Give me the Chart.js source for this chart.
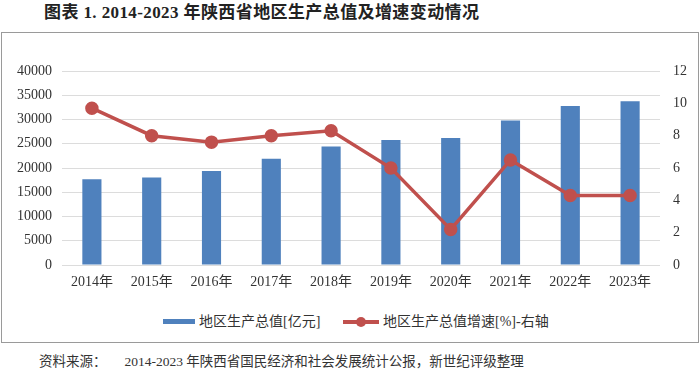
<!DOCTYPE html>
<html>
<head>
<meta charset="utf-8">
<script src="https://cdn.jsdelivr.net/npm/chart.js@4"></script>
<style>
  body { margin: 0; width: 700px; height: 380px; background: #fff; position: relative; overflow: hidden;
         font-family: "Liberation Serif", "Noto Sans CJK SC", serif; color: #222; }
  #title { position: absolute; left: 44px; top: -2px; font-size: 17px; font-weight: bold; white-space: nowrap; letter-spacing: 0.4px; }
  #box { position: absolute; left: 1px; top: 32px; width: 696px; height: 309px; border: 1px solid #9a9a9a; }
  #myChart { position: absolute; left: 0; top: 32px; }
  .leg { position: absolute; top: 310px; font-size: 14px; color: #333; white-space: nowrap; }
  .mk { display: inline-block; vertical-align: middle; position: relative; margin-right: 4px; }
  #src { position: absolute; left: 39px; top: 350px; font-size: 13.5px; color: #333; white-space: nowrap; }
  #src span { margin-left: 18px; }
</style>
</head>
<body>
<div id="title">图表 1. 2014-2023 年陕西省地区生产总值及增速变动情况</div>
<div id="box"></div>
<canvas id="myChart" width="700" height="265"></canvas>
<div class="leg" style="left:163px"><span class="mk" style="width:32px;height:5px;background:#4f81bd;top:-1px"></span>地区生产总值[亿元]</div>
<div class="leg" style="left:343px"><span class="mk" style="width:36px;height:4px;background:#c0504d;top:-1px"><span style="position:absolute;left:13px;top:-3px;width:10px;height:10px;border-radius:50%;background:#c0504d"></span></span>地区生产总值增速[%]-右轴</div>
<div id="src">资料来源：<span>2014-2023 年陕西省国民经济和社会发展统计公报，新世纪评级整理</span></div>
<script>
const years = ['2014年', '2015年', '2016年', '2017年', '2018年', '2019年', '2020年', '2021年', '2022年', '2023年'];
const gdp = [17690, 18022, 19400, 21899, 24438, 25793, 26182, 29801, 32773, 33786]; // 亿元
const growth = [9.7, 8.0, 7.6, 8.0, 8.3, 6.0, 2.2, 6.5, 4.3, 4.3]; // %

const tickFont = { family: '"Liberation Serif", "Noto Sans CJK SC", serif', size: 14 };

const ctx = document.getElementById('myChart').getContext('2d');
new Chart(ctx, {
  data: {
    labels: years,
    datasets: [
      {
        type: 'line',
        label: '地区生产总值增速[%]-右轴',
        data: growth,
        yAxisID: 'y1',
        borderColor: '#c0504d',
        backgroundColor: '#c0504d',
        borderWidth: 3.5,
        pointRadius: 5,
        pointHoverRadius: 5,
        tension: 0,
        order: 0,
      },
      {
        type: 'bar',
        label: '地区生产总值[亿元]',
        data: gdp,
        yAxisID: 'y',
        backgroundColor: '#4f81bd',
        barPercentage: 0.32,
        categoryPercentage: 1,
        order: 1,
      },
    ],
  },
  options: {
    responsive: false,
    animation: false,
    layout: { padding: { top: 39, left: 0, right: 0, bottom: 0 } },
    plugins: { legend: { display: false }, tooltip: { enabled: false } },
    scales: {
      x: {
        grid: { display: false, drawTicks: false },
        border: { display: false },
        ticks: { font: tickFont, color: '#333', padding: 9, maxRotation: 0 },
        afterFit: (s) => { s.height = 32; },
      },
      y: {
        position: 'left',
        min: 0, max: 40000,
        ticks: { stepSize: 5000, font: tickFont, color: '#333', padding: 10, callback: (v) => String(v) },
        grid: { color: '#dcdcdc', lineWidth: 1, drawTicks: false },
        border: { display: false },
        afterFit: (s) => { s.width = 62; },
      },
      y1: {
        position: 'right',
        min: 0, max: 12,
        ticks: { stepSize: 2, font: tickFont, color: '#333', padding: 13 },
        grid: { display: false, drawTicks: false },
        border: { display: false },
        afterFit: (s) => { s.width = 40; },
      },
    },
  },
});
</script>
</body>
</html>
